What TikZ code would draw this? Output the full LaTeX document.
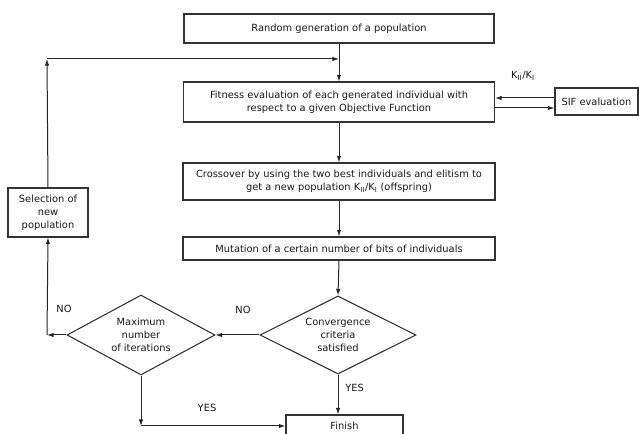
\documentclass[tikz,border=0pt]{standalone}
\usepackage{fontspec}
\setmainfont{DejaVu Sans}
\usetikzlibrary{shapes.geometric,arrows.meta}
\begin{document}
\begin{tikzpicture}[x=0.75pt,y=-0.75pt,
  every node/.style={font=\fontsize{7.4}{9.8}\selectfont, text=black!90},
  procbox/.style={draw=black!80, line width=0.8pt, rectangle, inner sep=0pt, align=center},
  decbox/.style={draw=black!80, line width=0.8pt, diamond, inner sep=0pt, align=center, aspect=1.9},
  arr/.style={draw=black!85, line width=0.75pt, -{Latex[length=5pt,width=3.4pt]}},
  lbl/.style={inner sep=0pt}]
\useasboundingbox (0,0) rectangle (639,434);
\fill[white] (0,0) rectangle (639,434);
% boxes
\node[procbox, minimum width=232.5pt, minimum height=21.75pt] (rand) at (339,28.5) {Random generation of a population};
\node[procbox, minimum width=233.25pt, minimum height=30pt] (fit) at (339,102) {Fitness evaluation of each generated individual with\\respect to a given Objective Function};
\node[procbox, minimum width=62.25pt, minimum height=20.25pt] (sif) at (596.5,101.5) {SIF evaluation};
\node[procbox, minimum width=234pt, minimum height=27.75pt] (cross) at (339,181.5) {Crossover by using the two best individuals and elitism to\\get a new population K$_{\mathrm{II}}$/K$_{\mathrm{I}}$ (offspring)};
\node[procbox, minimum width=234pt, minimum height=17.25pt] (mut) at (339,248.5) {Mutation of a certain number of bits of individuals};
\node[procbox, minimum width=60pt, minimum height=36.75pt] (sel) at (48,212.5) {Selection of\\new\\population};
\node[decbox, minimum width=117pt, minimum height=58.5pt] (conv) at (338,335) {Convergence\\criteria\\satisfied};
\node[decbox, minimum width=111pt, minimum height=60pt] (max) at (141,335) {Maximum\\number\\of iterations};
\node[procbox, minimum width=87.75pt, minimum height=16.5pt] (fin) at (344.5,426) {Finish};
% coordinates
\coordinate (c1) at (47,59);
\coordinate (j1) at (339,59);
\coordinate (c2) at (47,335);
\coordinate (c3) at (141,426);
% connectors
\draw[arr] (sel.north) -- (c1);
\draw[arr] (c1) -- (j1);
\draw[arr] (rand.south) -- (fit.north);
\draw[arr] (sif.west |- 0,98) -- (fit.east |- 0,98);
\draw[arr] (fit.east |- 0,108) -- (sif.west |- 0,108);
\draw[arr] (fit.south) -- (cross.north);
\draw[arr] (cross.south) -- (mut.north);
\draw[arr] (mut.south) -- (conv.north);
\draw[arr] (conv.south) -- (conv.south |- fin.north);
\draw[arr] (conv.west) -- (max.east);
\draw[arr] (max.west) -- (c2);
\draw[arr] (c2) -- (sel.south);
\draw[arr] (max.south) -- (c3);
\draw[arr] (c3) -- (fin.west);
% labels
\node[lbl] (kl) at (523,76) {K$_{\mathrm{II}}$/K$_{\mathrm{I}}$};
\node[lbl] (no1) at (243,310) {NO};
\node[lbl] (no2) at (64,309) {NO};
\node[lbl] (yes1) at (207,408) {YES};
\node[lbl, anchor=west] (yes2) at (345,388) {YES};
\end{tikzpicture}
\end{document}
